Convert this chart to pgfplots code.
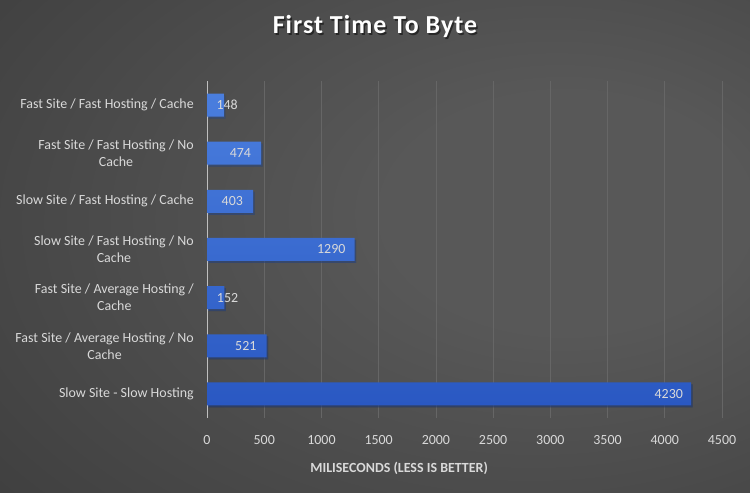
\documentclass[border=0pt]{standalone}
\usepackage{pgfplots}
\pgfplotsset{compat=1.18}
\usepackage{pgfplotstable}
\usepackage{fontspec}
\setmainfont{Carlito}
\newfontfamily\titlefont[LetterSpace=4]{Carlito}
\definecolor{bgin}{HTML}{585858}
\definecolor{bgout}{HTML}{1E1E1E}
\definecolor{bartop}{HTML}{4A7EDE}
\definecolor{barbot}{HTML}{2A58C2}
\definecolor{txt}{HTML}{D9D9D9}
\definecolor{gridc}{HTML}{666666}
\definecolor{axc}{HTML}{BFBFBF}
\pgfdeclareradialshading{bgshade}{\pgfpoint{15bp}{4bp}}{color(0bp)=(bgin); color(12bp)=(bgin); color(85bp)=(bgout)}
\pgfplotstableread{
i v shift
6 148 14
5 474 -10
4 403 -10
3 1290 -9
2 152 14
1 521 -10
0 4230 -8
}\data
\begin{document}
\begin{tikzpicture}
\useasboundingbox (0,0) rectangle (750bp,493bp);
\shade[shading=bgshade] (0,0) rectangle (750bp,493bp);
\node[font=\fontsize{26}{30}\selectfont\titlefont\bfseries, text=black, opacity=0.5] at (376.5bp,465bp) {First Time To Byte};
\node[font=\fontsize{26}{30}\selectfont\titlefont\bfseries, text=white] at (375bp,466.5bp) {First Time To Byte};
\begin{axis}[
  at={(207bp,75bp)}, anchor=south west,
  width=515bp, height=337bp, scale only axis,
  xmin=0, xmax=4500, ymin=-0.5, ymax=6.5,
  xtick={0,500,...,4500}, ytick={0,...,6},
  yticklabels={Slow Site - Slow Hosting,
    {Fast Site / Average Hosting / No\\Cache},
    {Fast Site / Average Hosting /\\Cache},
    {Slow Site / Fast Hosting / No\\Cache},
    Slow Site / Fast Hosting / Cache,
    {Fast Site / Fast Hosting / No\\Cache},
    Fast Site / Fast Hosting / Cache},
  /pgf/number format/assume math mode=true,
  /pgf/number format/1000 sep={},
  axis lines*=left,
  x axis line style={draw=none},
  y axis line style={draw=axc, line width=1bp},
  major tick length=0pt,
  xmajorgrids, major grid style={draw=gridc, line width=0.7bp},
  yticklabel style={align=center, font=\fontsize{14}{17}\selectfont, text=txt, inner sep=0pt, xshift=-13bp},
  xticklabel style={font=\fontsize{14}{16}\selectfont, text=txt, inner sep=0pt, anchor=north, yshift=-17bp},
  xlabel={MILISECONDS (LESS IS BETTER)},
  xlabel style={font=\fontsize{14}{16}\selectfont\bfseries, text=txt, at={(rel axis cs:0.373,0)}, anchor=center, yshift=-50bp},
  clip=false,
]
\addplot[xbar, bar width=23bp, draw=none, top color=bartop, bottom color=barbot,
  preaction={fill=black, fill opacity=0.35, draw=none, transform canvas={shift={(1.5bp,-2bp)}}},
  visualization depends on={\thisrow{shift}\as\lshift},
  nodes near coords,
  nodes near coords style={anchor=east, xshift=\lshift bp, inner sep=0pt, font=\fontsize{14}{16}\selectfont, text=txt},
] table[x=v, y=i] {\data};
\end{axis}
\end{tikzpicture}
\end{document}
